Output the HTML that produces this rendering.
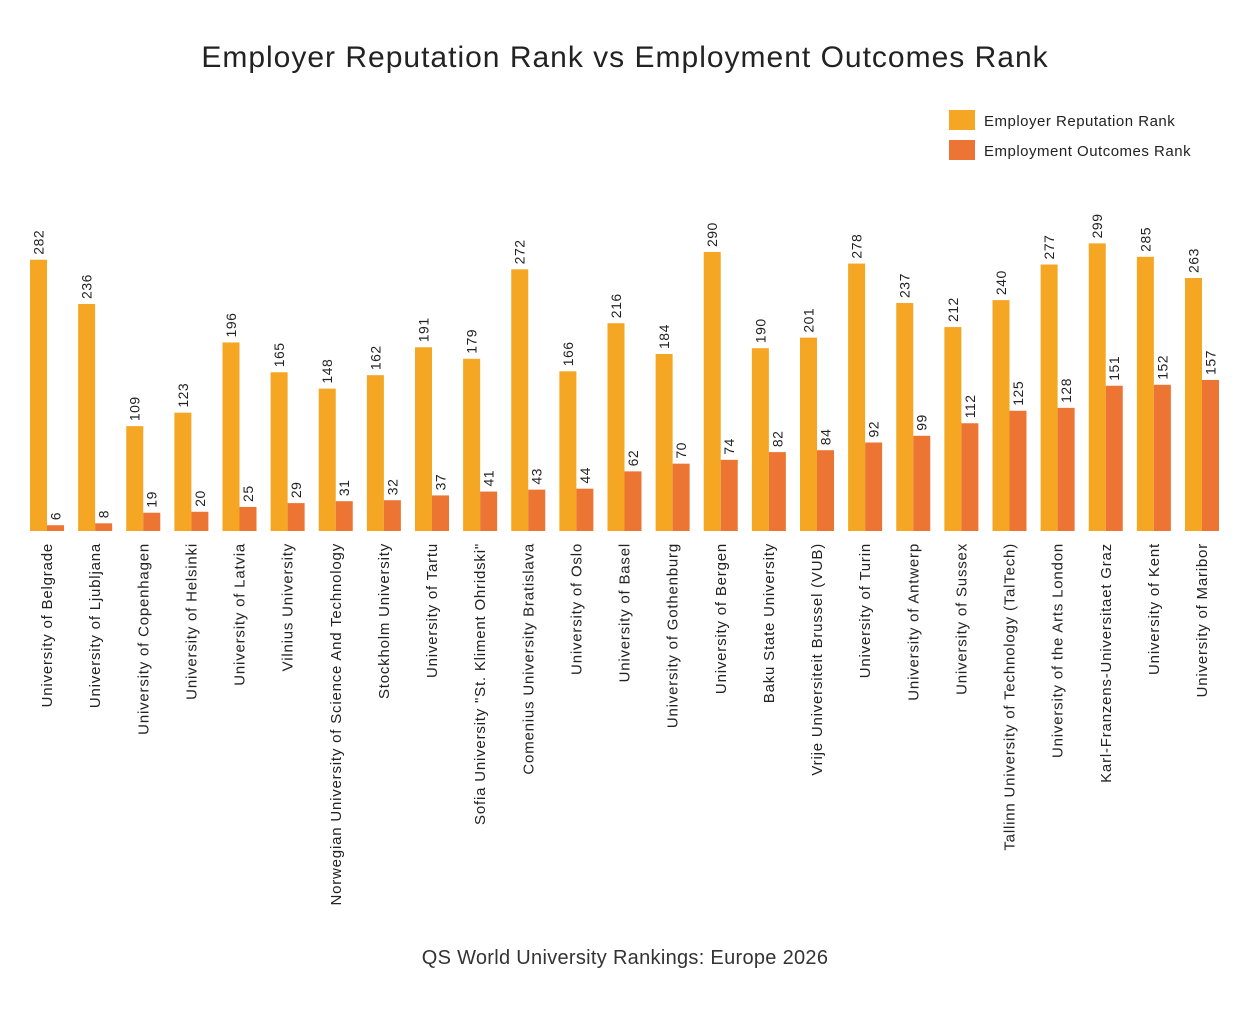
<!DOCTYPE html>
<html><head><meta charset="utf-8"><style>
body{margin:0;background:#fff;}
svg{display:block;font-family:"Liberation Sans",sans-serif;}
</style></head><body>
<svg id="chart" width="1250" height="1010" xmlns="http://www.w3.org/2000/svg">
<text x="625" y="67" text-anchor="middle" font-size="30" letter-spacing="1" fill="#222">Employer Reputation Rank vs Employment Outcomes Rank</text>
<rect x="949" y="110" width="26" height="20" fill="#F5A623"/>
<text x="984" y="126" font-size="15" letter-spacing="0.5" fill="#222">Employer Reputation Rank</text>
<rect x="949" y="140" width="26" height="20" fill="#EC7533"/>
<text x="984" y="156" font-size="15" letter-spacing="0.5" fill="#222">Employment Outcomes Rank</text>
<text x="625" y="964" text-anchor="middle" font-size="20" letter-spacing="0.3" fill="#333">QS World University Rankings: Europe 2026</text>
<g id="plot"></g>
</svg>
<script>
const categories=["University of Belgrade","University of Ljubljana","University of Copenhagen","University of Helsinki","University of Latvia","Vilnius University","Norwegian University of Science And Technology","Stockholm University","University of Tartu","Sofia University \"St. Kliment Ohridski\"","Comenius University Bratislava","University of Oslo","University of Basel","University of Gothenburg","University of Bergen","Baku State University","Vrije Universiteit Brussel (VUB)","University of Turin","University of Antwerp","University of Sussex","Tallinn University of Technology (TalTech)","University of the Arts London","Karl-Franzens-Universitaet Graz","University of Kent","University of Maribor"];
const reputation=[282,236,109,123,196,165,148,162,191,179,272,166,216,184,290,190,201,278,237,212,240,277,299,285,263];
const outcomes=[6,8,19,20,25,29,31,32,37,41,43,44,62,70,74,82,84,92,99,112,125,128,151,152,157];
const NS="http://www.w3.org/2000/svg";
const g=document.getElementById('plot');
const x0=30,pitch=48.125,bw=17,base=531,k=0.962;
const xScale=i=>x0+i*pitch;
const yScale=v=>base-v*k;
function mk(t,a){const e=document.createElementNS(NS,t);for(const n in a)e.setAttribute(n,a[n]);g.appendChild(e);return e;}
categories.forEach((c,i)=>{
  const x=xScale(i);
  [[reputation[i],x,'#F5A623','reputation'],[outcomes[i],x+bw,'#EC7533','outcomes']].forEach(([v,bx,col,s])=>{
    const y=yScale(v);
    const r=mk('rect',{x:bx,y:y,width:bw,height:base-y,fill:col});
    
    
    const cx=bx+bw/2+5,ty=y-5;
    const t=mk('text',{x:cx,y:ty,transform:`rotate(-90 ${cx} ${ty})`,'font-size':14,'letter-spacing':0.5,fill:'#222'});
    t.textContent=v;
    
    
  });
  const lx=x+bw+5,ly=543;
  const l=mk('text',{x:lx,y:ly,transform:`rotate(-90 ${lx} ${ly})`,'text-anchor':'end','font-size':15,'letter-spacing':0.8,fill:'#222'});
  l.textContent=c;
  
  
});
</script>
</body></html>
